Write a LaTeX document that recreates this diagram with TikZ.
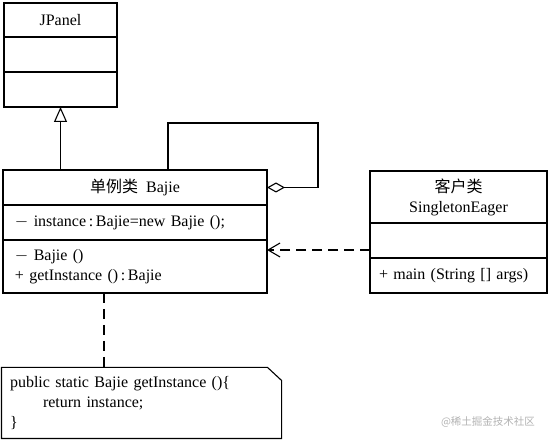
\documentclass[tikz,border=0pt]{standalone}
\usepackage{fontspec}
\setmainfont{Liberation Serif}
\newfontfamily\cjk{Noto Sans CJK SC}
\usetikzlibrary{positioning,arrows.meta}

\begin{document}
\begin{tikzpicture}[x=1pt,y=-1pt,line width=1.1pt,
font=\fontsize{16}{20}\selectfont,
part/.style={draw,rectangle,inner sep=0pt,outer sep=0pt,minimum height=#1},
jpart/.style={part=#1,minimum width=113pt},
bpart/.style={part=#1,minimum width=264pt},
cpart/.style={part=#1,minimum width=177pt},
lpart/.style={align=left,text width=#1},
dep/.style={dash pattern=on 10pt off 6pt}]
  \useasboundingbox (0,0) rectangle (550,441);
  % JPanel
  \node[jpart=34pt](jtitle) at (60.5,20){JPanel};
  \node[jpart=35pt](jattr)[below=0pt of jtitle]{};
  \node[jpart=35pt](jop)[below=0pt of jattr]{};
  % singleton class
  \node[bpart=35pt](btitle) at (135,187.5){{\cjk 单例类}\ \ Bajie};
  \node[bpart=35pt,lpart=240pt,inner xsep=12pt](battr)[below=0pt of btitle]{$-$ instance\,:\,Bajie=new Bajie ();};
  \node[bpart=53pt,lpart=240pt,inner xsep=12pt](bop)[below=0pt of battr]{$-$ Bajie ()\\+ getInstance ()\,:\,Bajie};
  % client class
  \node[cpart=52pt,align=center](ctitle) at (458.5,197){{\cjk 客户类}\\SingletonEager};
  \node[cpart=35pt](cattr)[below=0pt of ctitle]{};
  \node[cpart=35pt,lpart=159pt,inner xsep=9pt](cop)[below=0pt of cattr]{+ main (String [] args)};
  % note
  \node[minimum width=279pt,minimum height=70pt,inner xsep=8pt,lpart=263pt](note) at (141.5,403)
    {public static Bajie getInstance ()\{\\\hspace*{33pt}return instance;\\\}};
  \draw (note.north west) -- ([xshift=-14pt]note.north east) -- ([yshift=-13pt]note.north east)
    -- (note.south east) -- (note.south west) -- cycle;
  \node[text=gray!60,font=\cjk\fontsize{10.5}{13}\selectfont](mark) at (488,422){@稀土掘金技术社区};
  % connectors
  \coordinate (loop) at (318,123);
  \draw[-{Triangle[open,length=15pt,width=13pt]}] (btitle.north -| jop.south) -- (jop.south);
  \draw[{Diamond[open,length=18pt,width=10pt]}-] (btitle.east) -| (loop) -| ([xshift=33pt]btitle.north);
  \draw[dep,-{Straight Barb[length=12pt,width=14pt]}] ([yshift=-9.5pt]cattr.west) -- ([yshift=-9.5pt]cattr.west -| bop.east);
  \draw[dep] ([xshift=-31pt]bop.south) -- ([xshift=-31pt]bop.south |- note.north);
\end{tikzpicture}
\end{document}
